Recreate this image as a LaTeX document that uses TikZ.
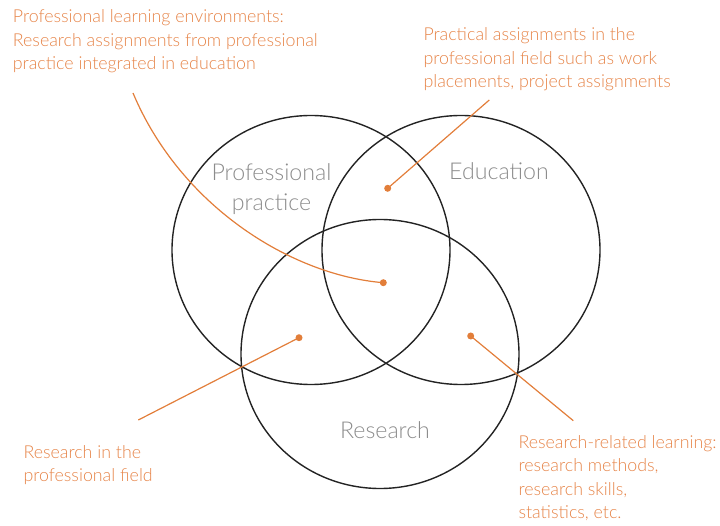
\documentclass[tikz,border=0pt]{standalone}
\usepackage{fontspec}
\setmainfont{Lato Light}
\usetikzlibrary{shapes.geometric}
\definecolor{lineorange}{RGB}{226,126,58}
\definecolor{textorange}{RGB}{230,132,72}
\definecolor{labelgray}{RGB}{140,140,140}
\definecolor{ringcol}{RGB}{35,35,35}
\tikzset{
  ring/.style={draw=ringcol, line width=1.4pt, ellipse, minimum width=278pt, minimum height=269pt, inner sep=0pt},
  setlabel/.style={text=labelgray, font=\fontsize{23.2}{30}\selectfont, align=center, inner sep=0pt},
  note/.style={text=textorange, font=\fontsize{17.8}{23.3}\selectfont, align=left, inner sep=0pt, anchor=north west},
  dot/.style={circle, fill=lineorange, minimum size=7pt, inner sep=0pt},
  conn/.style={draw=lineorange, line width=1.2pt}
}
\begin{document}
\begin{tikzpicture}[x=1pt, y=-1pt]
\useasboundingbox (0,0) rectangle (720,526);
% circles
\node[ring] (P) at (311,250) {};
\node[ring] (E) at (461,250) {};
\node[ring] (R) at (380,354) {};
% circle labels
\node[setlabel, anchor=north] (Pl) at (271.5,163) {Professional\\practice};
\node[setlabel, anchor=base] (El) at (499,180) {Education};
\node[setlabel, anchor=base] (Rl) at (385,438) {Research};
% notes
\node[note] (n1) at (12.7,9.8) {Professional learning environments:\\Research assignments from professional\\practice integrated in education};
\node[note] (n2) at (423.3,27.8) {Practical assignments in the\\professional field such as work\\placements, project assignments};
\node[note] (n3) at (23.3,445.1) {Research in the\\professional field};
\node[note] (n4) at (518.3,435.4) {Research-related learning:\\research methods,\\research skills,\\statistics, etc.};
% dots
\node[dot] (d1) at (383.3,282.7) {};
\node[dot] (d2) at (387.7,188.3) {};
\node[dot] (d3) at (299,337.7) {};
\node[dot] (d4) at (470.7,336) {};
% free ends
\coordinate (a1) at (133,93);
\coordinate (a2) at (489.3,100);
\coordinate (a3) at (138.3,420);
\coordinate (a4) at (573.3,420.7);
% connectors
\draw[conn] (a1) .. controls (180,205) and (290,275) .. (d1.center);
\draw[conn] (a2) -- (d2.center);
\draw[conn] (a3) -- (d3.center);
\draw[conn] (a4) -- (d4.center);
\end{tikzpicture}
\end{document}
